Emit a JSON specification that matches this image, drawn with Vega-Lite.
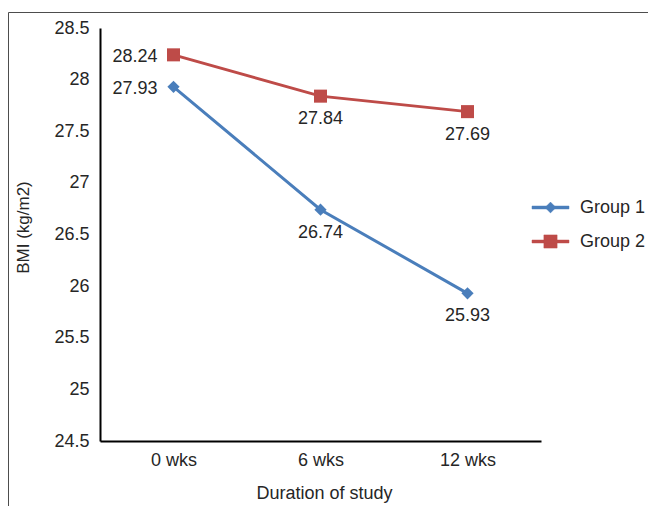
{
  "$schema": "https://vega.github.io/schema/vega-lite/v6.json",
  "width": 640,
  "height": 494,
  "autosize": {"type": "none"},
  "padding": {"left": 8, "top": 12, "right": 0, "bottom": 0},
  "background": "white",
  "config": {
    "font": "Liberation Sans",
    "view": {"stroke": "#4d4d4d", "strokeWidth": 1},
    "axis": {"grid": false}
  },
  "data": {
    "values": [
      {"group": "Group 1", "week": "0 wks", "bmi": 27.93},
      {"group": "Group 1", "week": "6 wks", "bmi": 26.74},
      {"group": "Group 1", "week": "12 wks", "bmi": 25.93},
      {"group": "Group 2", "week": "0 wks", "bmi": 28.24},
      {"group": "Group 2", "week": "6 wks", "bmi": 27.84},
      {"group": "Group 2", "week": "12 wks", "bmi": 27.69}
    ]
  },
  "encoding": {
    "x": {
      "field": "week",
      "type": "ordinal",
      "sort": ["0 wks", "6 wks", "12 wks"],
      "scale": {"type": "point", "range": [92, 533], "padding": 0.5},
      "axis": {
        "offset": -65,
        "labelAngle": 0,
        "ticks": false,
        "domainColor": "#000000",
        "domainWidth": 2,
        "labelFontSize": 18,
        "labelColor": "#262626",
        "labelPadding": 10,
        "title": "Duration of study",
        "titleFontSize": 18,
        "titleFontWeight": "normal",
        "titleColor": "#262626",
        "titleX": 316,
        "titleY": 52,
        "titleBaseline": "middle"
      }
    },
    "y": {
      "field": "bmi",
      "type": "quantitative",
      "scale": {"domain": [24.5, 28.5], "range": [429, 16], "zero": false, "nice": false},
      "axis": {
        "offset": -92,
        "values": [24.5, 25, 25.5, 26, 26.5, 27, 27.5, 28, 28.5],
        "format": "~g",
        "ticks": false,
        "domainColor": "#000000",
        "domainWidth": 2,
        "labelFontSize": 18,
        "labelColor": "#262626",
        "labelPadding": 11,
        "title": "BMI (kg/m2)",
        "titleFontSize": 17,
        "titleFontWeight": "normal",
        "titleColor": "#262626",
        "titleX": -77,
        "titleY": 215,
        "titleBaseline": "middle",
        "titleAngle": -90
      }
    },
    "color": {
      "field": "group",
      "type": "nominal",
      "scale": {"domain": ["Group 1", "Group 2"], "range": ["#4a7ebb", "#be4b48"]},
      "legend": {
        "orient": "none",
        "legendX": 530,
        "legendY": 183,
        "title": null,
        "padding": 0,
        "symbolSize": 576,
        "rowPadding": 12,
        "labelOffset": 17,
        "labelFontSize": 18,
        "labelColor": "#262626",
        "encode": {
          "symbols": {
            "update": {
              "shape": {"signal": "datum.value === 'Group 1' ? 'M-1.54,-0.12H1.54V0.12H-1.54Z M0,-0.45L0.45,0L0,0.45L-0.45,0Z' : 'M-1.54,-0.12H1.54V0.12H-1.54Z M-0.55,-0.55H0.55V0.55H-0.55Z'"},
              "size": {"value": 576},
              "fill": {"signal": "datum.value === 'Group 1' ? '#4a7ebb' : '#be4b48'"},
              "stroke": {"signal": "datum.value === 'Group 1' ? '#4a7ebb' : '#be4b48'"},
              "strokeWidth": {"value": 0.5},
              "opacity": {"value": 1},
              "fillOpacity": {"value": 1}
            }
          }
        }
      }
    }
  },
  "layer": [
    {"mark": {"type": "line", "strokeWidth": 3}},
    {
      "transform": [{"filter": "datum.group === 'Group 1'"}],
      "mark": {"type": "point", "shape": "diamond", "size": 150, "filled": true, "opacity": 1}
    },
    {
      "transform": [{"filter": "datum.group === 'Group 2'"}],
      "mark": {"type": "point", "shape": "square", "size": 170, "filled": true, "opacity": 1}
    },
    {
      "transform": [{"filter": "datum.week === '0 wks'"}],
      "mark": {"type": "text", "align": "right", "baseline": "middle", "dx": -16, "dy": 2, "fontSize": 18},
      "encoding": {
        "text": {"field": "bmi", "type": "quantitative", "format": ".2f"},
        "color": {"value": "#262626"}
      }
    },
    {
      "transform": [{"filter": "datum.week !== '0 wks'"}],
      "mark": {"type": "text", "align": "center", "baseline": "middle", "dy": 23, "fontSize": 18},
      "encoding": {
        "text": {"field": "bmi", "type": "quantitative", "format": ".2f"},
        "color": {"value": "#262626"}
      }
    }
  ]
}
